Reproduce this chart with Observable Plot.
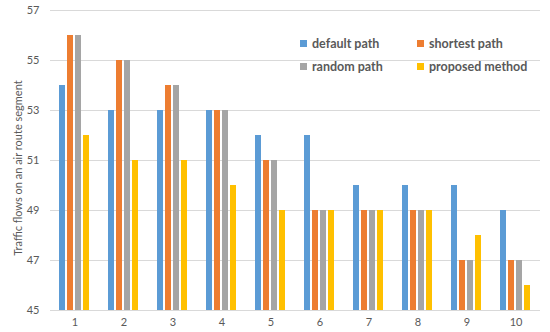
<!DOCTYPE html>
<html><head><meta charset="utf-8">
<script src="https://cdn.jsdelivr.net/npm/d3@7"></script>
<script src="https://cdn.jsdelivr.net/npm/@observablehq/plot@0.6"></script>
<style>
body{margin:0;background:#fff;}
#wrap{position:relative;width:550px;height:332px;font-family:Lato,"Open Sans",sans-serif;}
.legend{position:absolute;left:300px;top:36px;display:grid;grid-template-columns:117px 120px;row-gap:9px;font-size:12.5px;font-weight:bold;color:#595959;}
.legend span.item{display:flex;align-items:center;white-space:nowrap;height:14px;}
.legend i{display:inline-block;width:7px;height:7px;margin-right:5px;}
</style></head><body><div id="wrap"></div>
<script>
const groups = [1, 2, 3, 4, 5, 6, 7, 8, 9, 10];
const seriesNames = ["default path", "shortest path", "random path", "proposed method"];
const defaultPath = [54, 53, 53, 53, 52, 52, 50, 50, 50, 49];
const shortestPath = [56, 55, 54, 53, 51, 49, 49, 49, 47, 47];
const randomPath = [56, 55, 54, 53, 51, 49, 49, 49, 47, 47];
const proposedMethod = [52, 51, 51, 50, 49, 49, 49, 49, 48, 46];
const seriesColors = ["#5B9BD5", "#ED7D31", "#A5A5A5", "#FFC000"];
const yTicks = [45, 47, 49, 51, 53, 55, 57];
const yLabel = "Traffic flows on an air route segment";

const seriesValues = [defaultPath, shortestPath, randomPath, proposedMethod];
const rows = [];
groups.forEach((g, gi) => seriesNames.forEach((s, si) => rows.push({group: g, series: s, value: seriesValues[si][gi]})));

const chart = Plot.plot({
  width: 550, height: 332,
  marginTop: 10, marginBottom: 22, marginLeft: 46, marginRight: 7,
  style: {fontFamily: "Lato, 'Open Sans', sans-serif", fontSize: "11px", color: "#595959", background: "#fff"},
  facet: {data: rows, x: "group"},
  fx: {domain: groups, padding: 0, label: null, tickSize: 0, tickPadding: 8, axis: "bottom"},
  x: {domain: seriesNames, paddingInner: 0.22, paddingOuter: 0.87, axis: null},
  y: {domain: [45, 57], ticks: yTicks, tickSize: 0, tickPadding: 11, label: yLabel, labelArrow: "none", labelAnchor: "center", labelOffset: 36},
  color: {domain: seriesNames, range: seriesColors},
  marks: [
    Plot.ruleY(yTicks, {stroke: "#d9d9d9", strokeWidth: 1}),
    Plot.barY(rows, {x: "series", y1: 45, y2: "value", fill: "series"})
  ]
});
const wrap = document.getElementById("wrap");
wrap.appendChild(chart);
d3.select(chart).selectAll("text").each(function() {
  const t = d3.select(this);
  const s = t.text();
  if (s.includes(yLabel)) {
    t.text(yLabel).style("font-size", "11px");
    const svgRect = chart.getBoundingClientRect();
    const r = this.getBoundingClientRect();
    const cx = r.left - svgRect.left + r.width / 2;
    const cy = r.top - svgRect.top + r.height / 2;
    const tr = t.attr("transform") || "";
    t.attr("transform", `translate(${17 - cx},${168 - cy}) ` + tr);
  }
});

const legend = document.createElement("div");
legend.className = "legend";
seriesNames.forEach((s, i) => {
  const it = document.createElement("span");
  it.className = "item";
  it.innerHTML = `<i style="background:${seriesColors[i]}"></i>${s}`;
  legend.appendChild(it);
});
wrap.appendChild(legend);
</script></body></html>
